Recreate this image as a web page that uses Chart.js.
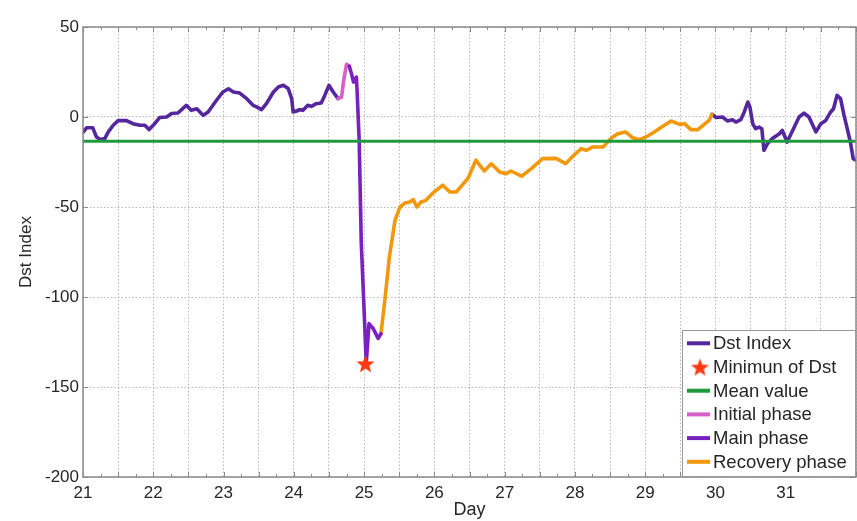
<!DOCTYPE html>
<html><head><meta charset="utf-8">
<script src="https://cdn.jsdelivr.net/npm/chart.js@4/dist/chart.umd.min.js"></script>
<style>html,body{margin:0;padding:0;background:#fff;overflow:hidden;} #c{display:block;}</style>
</head><body>
<canvas id="c" width="857" height="521"></canvas>
<script>
// ---- data (Day of month, Dst index in nT) ----
const quietDays = [21.00,21.05,21.14,21.19,21.24,21.31,21.36,21.43,21.50,21.62,21.71,21.81,21.88,21.94,22.02,22.09,22.19,22.26,22.35,22.47,22.54,22.62,22.71,22.78,22.90,22.99,23.07,23.14,23.23,23.33,23.42,23.47,23.54,23.61,23.71,23.78,23.85,23.92,23.97,23.99,24.04,24.08,24.13,24.20,24.25,24.32,24.39,24.44,24.50,24.56,24.63];
const quietDst  = [-8.5,-6,-6,-11,-12.5,-12,-8.3,-4.6,-2,-2,-3.7,-4.6,-4.6,-7,-3.7,-0.3,0,1.9,2.2,6.5,3.7,4.6,0.9,2.8,9.3,13.9,15.7,13.9,13.3,10.2,6.5,5.6,4.1,7.4,13.9,16.7,17.6,15.8,10.2,2.8,3.3,4.1,3.7,6.5,5.9,7.4,7.8,12,17.6,13.9,10.2];

const initialDays = [24.63,24.68,24.71,24.75,24.79];
const initialDst  = [10.2,11.1,20.4,29.3,28.2];

const mainDays = [24.79,24.82,24.85,24.89,24.90,24.93,24.96,25.01,25.03,25.07,25.13,25.20,25.24];
const mainDst  = [28.2,24.1,19.4,22.2,14.8,-12.9,-70,-116.7,-137,-114.8,-117.6,-123,-120.4];

const recoveryDays = [25.24,25.29,25.36,25.44,25.51,25.58,25.65,25.70,25.75,25.81,25.88,25.98,26.12,26.22,26.31,26.48,26.59,26.71,26.81,26.93,27.02,27.09,27.24,27.38,27.54,27.73,27.87,27.99,28.09,28.16,28.25,28.40,28.51,28.61,28.72,28.82,28.92,29.01,29.13,29.25,29.37,29.49,29.56,29.65,29.75,29.84,29.91,29.95];
const recoveryDst  = [-120.4,-103.7,-77.8,-57.4,-50,-47.8,-47.2,-45.9,-50,-47.2,-46.3,-42.2,-37.9,-41.7,-41.7,-34,-24,-30,-26,-30.6,-31.5,-30,-32.9,-28.7,-23.1,-23,-25.9,-21,-17.6,-18.5,-16.7,-16.7,-12,-9.3,-8.3,-11.5,-12.6,-11.1,-8.3,-5.2,-2.2,-4.1,-3.7,-7,-7,-4.1,-1.9,1.5];

const postDays = [29.95,30.01,30.10,30.17,30.24,30.29,30.36,30.41,30.46,30.49,30.53,30.57,30.62,30.66,30.69,30.74,30.81,30.91,30.95,31.02,31.10,31.19,31.26,31.33,31.43,31.50,31.57,31.64,31.68,31.73,31.78,31.83,31.87,31.92,31.96,32.00];
const postDst  = [1.5,-0.3,0,-2.2,-1.5,-2.8,-1.5,2.8,8.3,5.6,-3.7,-6.5,-5.6,-6.5,-18.5,-14.8,-12,-9.3,-7.4,-13.9,-7.4,0,2.2,0,-8.3,-3.7,-1.9,2.8,4.6,12,10.2,0.9,-5.6,-13.9,-23.1,-24];

const minDay = 25.02, minDst = -137;
const meanDst = -13.5;
const dayRange = [21, 32];
const dstRange = [-200, 50];
const yTickStep = 50;
const xGridStep = 0.5;
const legendLabels = ['Dst Index','Minimun of Dst','Mean value','Initial phase','Main phase','Recovery phase'];

// ---- helpers ----
const pts = (xs, ys) => xs.map((x, i) => ({x, y: ys[i]}));
const COL = {dst:'#55279e', star:'#ff3a12', mean:'#1f9b3b', initial:'#d85fc9', main:'#7a20bf', recovery:'#f1980c'};
const FONT = '"Liberation Sans", Arial, sans-serif';

function makeStar(size, color) {
  const c = document.createElement('canvas');
  c.width = size; c.height = size;
  const g = c.getContext('2d');
  const cx = size/2, cy = size/2 + size*0.05, R = size/2, r = R*0.42;
  g.beginPath();
  for (let i = 0; i < 10; i++) {
    const a = -Math.PI/2 + i*Math.PI/5;
    const rr = i % 2 === 0 ? R : r;
    g.lineTo(cx + rr*Math.cos(a), cy + rr*Math.sin(a));
  }
  g.closePath(); g.fillStyle = color; g.fill();
  return c;
}
const starImg = makeStar(19, COL.star);

const lineDs = (label, data, color, order, legendIdx) => ({
  label, data, borderColor: color, backgroundColor: color, borderWidth: 3.6,
  pointRadius: 0, tension: 0, borderJoinStyle: 'round', borderCapStyle: 'round',
  order, legendIdx
});

const datasets = [
  lineDs(legendLabels[0], pts(quietDays, quietDst), COL.dst, 5, 0),
  lineDs(legendLabels[3], pts(initialDays, initialDst), COL.initial, 4, 3),
  lineDs(legendLabels[4], pts(mainDays, mainDst), COL.main, 3, 4),
  lineDs(legendLabels[5], pts(recoveryDays, recoveryDst), COL.recovery, 4, 5),
  lineDs(legendLabels[0], pts(postDays, postDst), COL.dst, 5, -1),
  Object.assign(lineDs(legendLabels[2], pts(dayRange, [meanDst, meanDst]), COL.mean, 1, 2), {borderWidth: 3}),
  {label: legendLabels[1], data: [{x: minDay, y: minDst}], showLine: false, pointStyle: starImg,
   pointRadius: 9, borderColor: COL.star, backgroundColor: COL.star, order: 0, legendIdx: 1}
];

const framePlugin = {
  id: 'frame',
  afterDatasetsDraw(chart) {
    const {ctx, chartArea: a, scales} = chart;
    ctx.save();
    ctx.strokeStyle = '#8a8a8a'; ctx.lineWidth = 1.5;
    ctx.strokeRect(a.left, a.top, a.right - a.left, a.bottom - a.top);
    ctx.lineWidth = 1;
    for (let d = dayRange[0]; d <= dayRange[1] + 1e-9; d += 0.25) {
      const x = Math.round(scales.x.getPixelForValue(d)) + 0.5;
      const L = Math.abs(d*2 - Math.round(d*2)) < 1e-6 ? 5 : 3;
      ctx.beginPath();
      ctx.moveTo(x, a.bottom); ctx.lineTo(x, a.bottom - L);
      ctx.moveTo(x, a.top); ctx.lineTo(x, a.top + L);
      ctx.stroke();
    }
    for (let v = dstRange[0]; v <= dstRange[1]; v += yTickStep) {
      const y = Math.round(scales.y.getPixelForValue(v)) + 0.5;
      ctx.beginPath();
      ctx.moveTo(a.left, y); ctx.lineTo(a.left + 5, y);
      ctx.moveTo(a.right, y); ctx.lineTo(a.right - 5, y);
      ctx.stroke();
    }
    ctx.restore();
  }
};

const legendPlugin = {
  id: 'boxLegend',
  afterDraw(chart) {
    const {ctx, chartArea: a} = chart;
    const items = chart.data.datasets.filter(d => d.legendIdx >= 0).sort((p, q) => p.legendIdx - q.legendIdx);
    const w = 174, h = 147, rowH = 23.7;
    const x0 = a.right - w, y0 = a.bottom - h;
    ctx.save();
    ctx.fillStyle = '#fff'; ctx.fillRect(x0, y0, w, h);
    ctx.strokeStyle = '#9a9a9a'; ctx.lineWidth = 1;
    ctx.strokeRect(x0 + 0.5, y0 + 0.5, w - 1, h - 1);
    ctx.font = '18.5px ' + FONT; ctx.textBaseline = 'middle'; ctx.fillStyle = '#262626';
    items.forEach((d, i) => {
      const cy = y0 + 13.3 + i*rowH;
      if (d.pointStyle instanceof HTMLCanvasElement) {
        ctx.drawImage(d.pointStyle, x0 + 18 - 9.5, cy - 9.5);
      } else {
        ctx.strokeStyle = d.borderColor; ctx.lineWidth = 4; ctx.lineCap = 'butt';
        ctx.beginPath(); ctx.moveTo(x0 + 5, cy); ctx.lineTo(x0 + 28, cy); ctx.stroke();
      }
      ctx.fillText(d.label, x0 + 31, cy + 1);
    });
    ctx.restore();
  }
};

new Chart(document.getElementById('c'), {
  type: 'line',
  data: {datasets},
  plugins: [framePlugin, legendPlugin],
  options: {
    responsive: false, animation: false, devicePixelRatio: 1,
    layout: {autoPadding: false, padding: {top: 27, right: 1, left: 0, bottom: 0}},
    plugins: {legend: {display: false}, tooltip: {enabled: false}},
    scales: {
      x: {
        type: 'linear', min: dayRange[0], max: dayRange[1],
        ticks: {stepSize: xGridStep, autoSkip: false, maxRotation: 0, padding: 6,
                color: '#262626', font: {size: 17, family: FONT},
                callback: v => (Number.isInteger(v) && v < dayRange[1]) ? String(v) : ''},
        grid: {color: '#b8b8b8', lineWidth: 1, drawTicks: false},
        border: {display: false, dash: [1.5, 2]},
        title: {display: true, text: 'Day', color: '#262626', font: {size: 18, family: FONT}, padding: {top: 0, bottom: 0}},
        afterFit: s => { s.height = 44; s.paddingLeft = 0; s.paddingRight = 0; }
      },
      y: {
        type: 'linear', min: dstRange[0], max: dstRange[1],
        ticks: {stepSize: yTickStep, padding: 4, color: '#262626', font: {size: 17, family: FONT}},
        grid: {color: '#b8b8b8', lineWidth: 1, drawTicks: false},
        border: {display: false, dash: [1.5, 2]},
        title: {display: true, text: 'Dst Index', color: '#262626', font: {size: 17, family: FONT}, padding: {top: 16, bottom: 0}},
        afterFit: s => { s.width = 83; }
      }
    }
  }
});
</script>
</body></html>
